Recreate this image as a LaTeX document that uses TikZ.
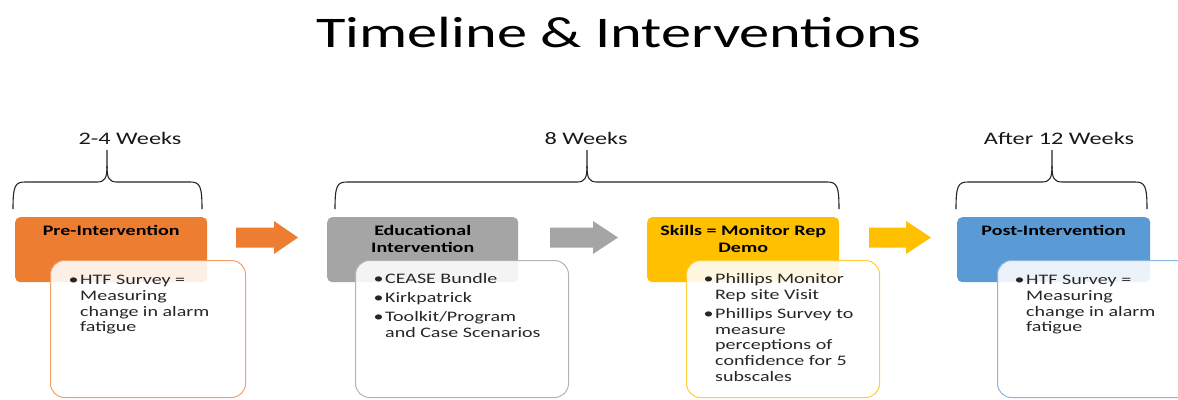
\documentclass[tikz,border=0pt]{standalone}
\usepackage{fontspec}
\setmainfont{Carlito}[FakeStretch=1.38]
\usetikzlibrary{calc}

\definecolor{preC}{HTML}{ED7D31}
\definecolor{preL}{HTML}{F2A268}
\definecolor{eduC}{HTML}{A5A5A5}
\definecolor{eduL}{HTML}{B4B4B4}
\definecolor{skC}{HTML}{FFC000}
\definecolor{skL}{HTML}{FFCD3A}
\definecolor{postC}{HTML}{5B9BD5}
\definecolor{postL}{HTML}{8DB7E3}

% bullet hung to the left of the text start
\newcommand\bl{\llap{\textbullet\hspace{1.5pt}}}

% curly brace spanning a phase: left x, cusp x, right x
\newcommand\spanbrace[4]{%
  \coordinate (#1-l) at (#2,-209);
  \coordinate (#1-t) at (#3,-150);
  \coordinate (#1-r) at (#4,-209);
  \draw[brace] (#1-l) .. controls ($(#1-l)+(0,23)$) and ($(#1-l)+(2,27)$) .. ($(#1-l)+(12,27)$)
    -- ($(#1-t)+(-10,-32)$) .. controls ($(#1-t)+(-2,-32)$) and ($(#1-t)+(0,-28)$) .. ($(#1-t)+(0,-16)$)
    -- (#1-t);
  \draw[brace] (#1-r) .. controls ($(#1-r)+(0,23)$) and ($(#1-r)+(-2,27)$) .. ($(#1-r)+(-12,27)$)
    -- ($(#1-t)+(10,-32)$) .. controls ($(#1-t)+(2,-32)$) and ($(#1-t)+(0,-28)$) .. ($(#1-t)+(0,-16)$);
}

% block arrow between phases: colour, start x, head x, tip x
\newcommand\blockarrow[4]{%
  \fill[#1] (#2,-227.5) -- (#3,-227.5) -- (#3,-221) -- (#4,-237.5)
    -- (#3,-254) -- (#3,-247.5) -- (#2,-247.5) -- cycle;
}

\begin{document}
\begin{tikzpicture}[x=1pt,y=1pt,
  stage/.style={rounded corners=5pt, anchor=north west, minimum height=65pt, inner sep=0pt},
  card/.style={rounded corners=14pt, fill=white, fill opacity=0.88, line width=1pt,
    anchor=north west, minimum height=137pt, inner sep=0pt},
  head/.style={font=\fontsize{14.5}{17}\selectfont\bfseries, anchor=base, inner sep=0pt},
  body/.style={font=\fontsize{14.5}{15.8}\selectfont, text=black!85, anchor=base west, inner sep=0pt},
  span/.style={font=\fontsize{17.6}{20}\selectfont, text=black!90, anchor=base, inner sep=0pt},
  brace/.style={line width=1.1pt, draw=black!85}]

\clip (0,0) rectangle (1178,-399);
\fill[white] (0,0) rectangle (1178,-399);

% title
\node[font=\fontsize{43.7}{50}\selectfont, anchor=base, inner sep=0pt] (title) at (619,-47)
  {Timeline \& Interventions};

% phase durations
\node[span] (w1) at (130,-144) {2-4 Weeks};
\node[span] (w2) at (586,-144) {8 Weeks};
\node[span] (w3) at (1059,-144) {After 12 Weeks};
\spanbrace{b1}{13}{107}{202}
\spanbrace{b2}{335}{587}{839}
\spanbrace{b3}{956}{1052}{1147}

% phase boxes
\node[stage, fill=preC, minimum width=192pt] (pre) at (15,-217) {};
\node[stage, fill=eduC, minimum width=191pt] (edu) at (327,-217) {};
\node[stage, fill=skC, minimum width=192pt] (sk) at (647,-217) {};
\node[stage, fill=postC, minimum width=193pt] (post) at (957,-217) {};

\node[head] (preH) at ($(pre.north)+(0,-18.5)$) {Pre-Intervention};
\node[head] (eduH) at ($(edu.north)+(0,-18.5)$)
  {\begin{tabular}[t]{@{}c@{}}Educational\\Intervention\end{tabular}};
\node[head] (skH) at ($(sk.north)+(0,-18.5)$)
  {\begin{tabular}[t]{@{}c@{}}Skills = Monitor Rep\\Demo\end{tabular}};
\node[head] (postH) at ($(post.north)+(0,-18.5)$) {Post-Intervention};

% detail cards
\node[card, draw=preL, minimum width=195pt] (preCard) at (50,-260) {};
\node[card, draw=eduL, minimum width=213pt] (eduCard) at (355,-260) {};
\node[card, draw=skL, minimum width=193pt] (skCard) at (686,-260) {};
\node[card, draw=postL, minimum width=200pt] (postCard) at (997,-260) {};

\node[body] (preB) at ($(preCard.north west)+(30,-24.5)$)
  {\begin{tabular}[t]{@{}l@{}}\bl HTF Survey =\\Measuring\\change in alarm\\fatigue\end{tabular}};
\node[body] (eduB) at ($(eduCard.north west)+(30,-23.5)$)
  {\begin{tabular}[t]{@{}l@{}}\bl CEASE Bundle\\[3.2pt]\bl Kirkpatrick\\[3.2pt]\bl Toolkit/Program\\and Case Scenarios\end{tabular}};
\node[body] (skB) at ($(skCard.north west)+(29,-23.5)$)
  {\begin{tabular}[t]{@{}l@{}}\bl Phillips Monitor\\Rep site Visit\\[3.2pt]\bl Phillips Survey to\\measure\\perceptions of\\confidence for 5\\subscales\end{tabular}};
\node[body] (postB) at ($(postCard.north west)+(29,-24.5)$)
  {\begin{tabular}[t]{@{}l@{}}\bl HTF Survey =\\Measuring\\change in alarm\\fatigue\end{tabular}};

% transitions between phases
\blockarrow{preC}{236}{274}{298}
\blockarrow{eduC}{550}{593}{618}
\blockarrow{skC}{869}{906}{931}

\end{tikzpicture}
\end{document}
